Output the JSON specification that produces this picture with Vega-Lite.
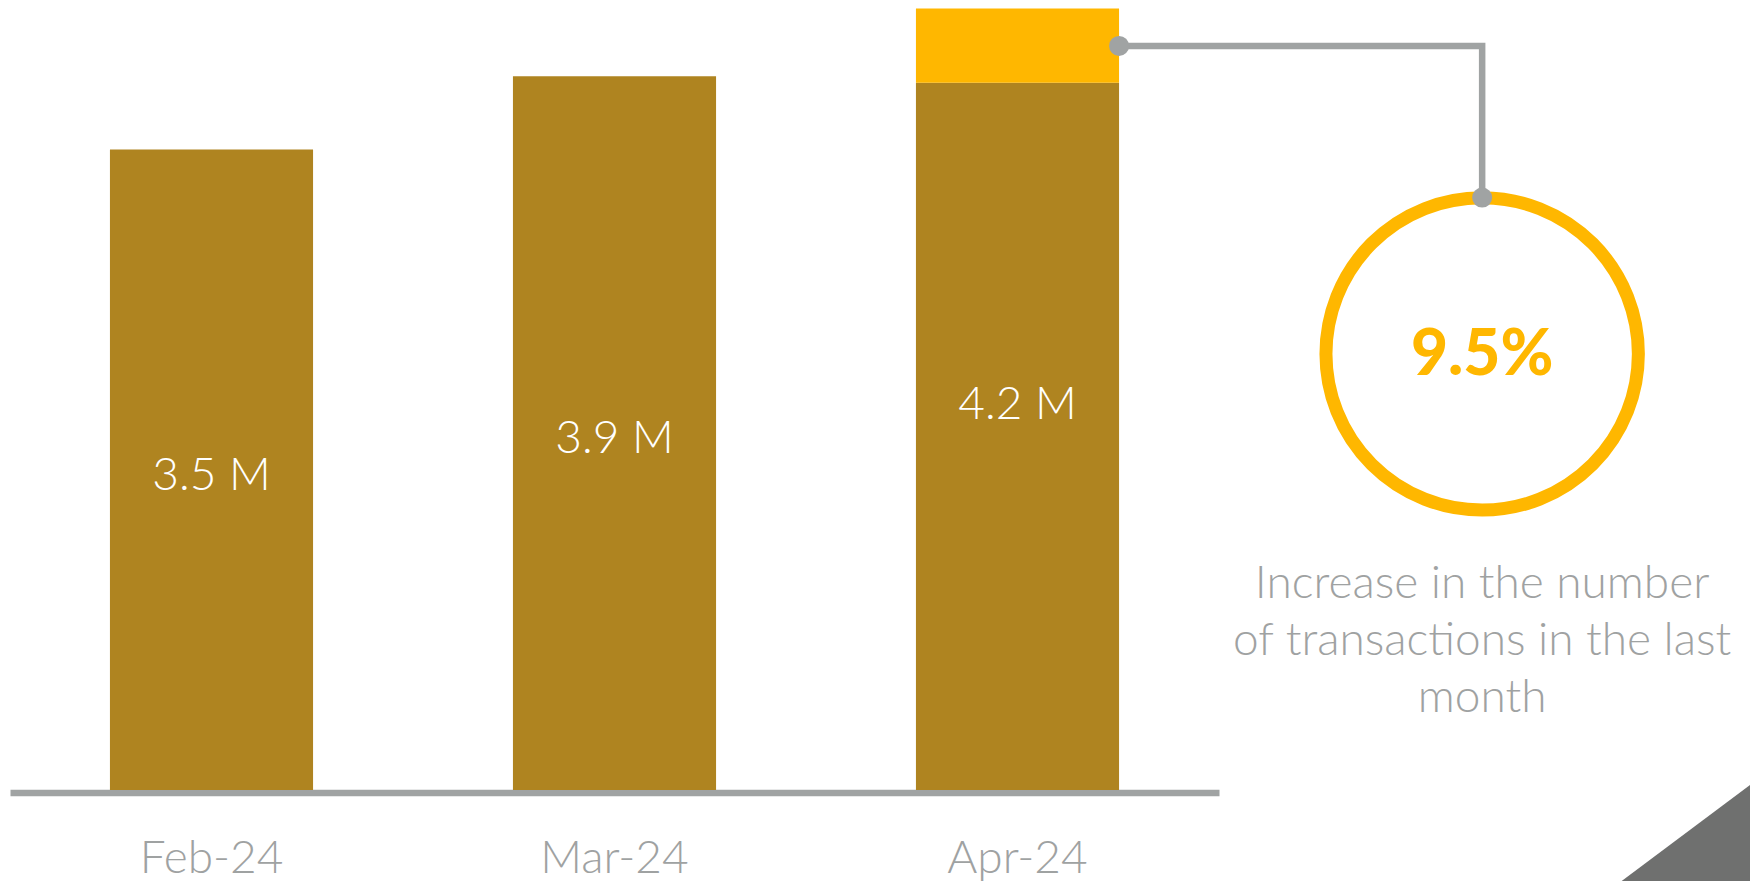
{
  "$schema": "https://vega.github.io/schema/vega-lite/v6.json",
  "autosize": "none",
  "width": 1209,
  "height": 790,
  "padding": {"left": 10, "top": 0, "right": 531, "bottom": 91},
  "background": "white",
  "config": {
    "view": {"stroke": null},
    "font": "Lato",
    "text": {"font": "Lato"}
  },
  "datasets": {
    "bars": [
      {"month": "Feb-24", "part": "base", "value": 3.5},
      {"month": "Mar-24", "part": "base", "value": 3.9},
      {"month": "Apr-24", "part": "base", "value": 3.865},
      {"month": "Apr-24", "part": "increase", "value": 0.405}
    ],
    "labels": [
      {"month": "Feb-24", "total": 3.5, "label": "3.5 M"},
      {"month": "Mar-24", "total": 3.9, "label": "3.9 M"},
      {"month": "Apr-24", "total": 4.27, "label": "4.2 M"}
    ],
    "connector": [
      {"s": 3.252, "v": 4.066, "step": 1},
      {"s": 4.153, "v": 4.066, "step": 2},
      {"s": 4.153, "v": 3.237, "step": 3}
    ],
    "dots": [
      {"s": 3.252, "v": 4.066},
      {"s": 4.153, "v": 3.237}
    ],
    "ring": [{"s": 4.153, "v": 2.383}],
    "pct": [{"s": 4.153, "v": 2.268, "text": "9.5%"}],
    "desc": [{"s": 4.153, "v": 1.049, "text": ["Increase in the number", "of transactions in the last", "month"]}],
    "corner": [
      {"s": 4.466, "v": -0.552},
      {"s": 4.842, "v": 0.068}
    ]
  },
  "resolve": {"scale": {"x": "independent"}, "axis": {"x": "independent"}},
  "layer": [
    {
      "encoding": {
        "x": {
          "field": "month", "type": "nominal", "sort": ["Feb-24", "Mar-24", "Apr-24"],
          "scale": {"paddingInner": 0.496, "paddingOuter": 0.248},
          "axis": {
            "title": null, "ticks": false, "tickSize": 0, "grid": false,
            "domain": true, "domainColor": "#A0A3A3", "domainWidth": 6.5, "offset": 2.5,
            "labelFont": "Lato", "labelFontWeight": 300, "labelFontSize": 46,
            "labelColor": "#9FA2A2", "labelBaseline": "alphabetic", "labelPadding": 79.5,
            "labelAngle": 0
          }
        }
      },
      "layer": [
        {
          "data": {"name": "bars"},
          "mark": {"type": "bar"},
          "encoding": {
            "y": {
              "field": "value", "type": "quantitative", "stack": "zero",
              "scale": {"domain": [0, 4.3169], "nice": false, "zero": true},
              "axis": null
            },
            "color": {
              "field": "part", "type": "nominal",
              "scale": {"domain": ["base", "increase"], "range": ["#AF8420", "#FFB700"]},
              "legend": null
            },
            "order": {"field": "part", "sort": "ascending"}
          }
        },
        {
          "data": {"name": "labels"},
          "transform": [{"calculate": "datum.total / 2", "as": "mid"}],
          "mark": {"type": "text", "color": "white", "font": "Lato", "fontWeight": 300, "fontSize": 46, "align": "center", "baseline": "alphabetic", "dy": 20},
          "encoding": {
            "y": {"field": "mid", "type": "quantitative", "scale": {"domain": [0, 4.3169], "nice": false, "zero": true}, "axis": null},
            "text": {"field": "label"}
          }
        }
      ]
    },
    {
      "encoding": {
        "x": {"field": "s", "type": "quantitative", "scale": {"domain": [0.5, 3.5], "zero": false, "nice": false}, "axis": null},
        "y": {"field": "v", "type": "quantitative", "scale": {"domain": [0, 4.3169], "nice": false, "zero": true}, "axis": null}
      },
      "layer": [
        {
          "data": {"name": "corner"},
          "mark": {"type": "area", "color": "#6F706F", "clip": false},
          "encoding": {
            "y2": {"datum": -0.552}
          }
        },
        {
          "data": {"name": "connector"},
          "mark": {"type": "line", "color": "#A0A3A3", "strokeWidth": 6.5, "strokeJoin": "miter", "strokeCap": "butt"},
          "encoding": {
            "order": {"field": "step"}
          }
        },
        {
          "data": {"name": "ring"},
          "mark": {"type": "point", "shape": "circle", "filled": false, "stroke": "#FFB700", "strokeWidth": 13, "size": 97600, "opacity": 1},
          "encoding": {}
        },
        {
          "data": {"name": "dots"},
          "mark": {"type": "point", "shape": "circle", "filled": true, "color": "#A0A3A3", "size": 400, "opacity": 1},
          "encoding": {}
        },
        {
          "data": {"name": "pct"},
          "mark": {"type": "text", "color": "#FFB700", "font": "Lato", "fontWeight": 900, "fontSize": 64, "align": "center", "baseline": "alphabetic"},
          "encoding": {
            "text": {"field": "text"}
          }
        },
        {
          "data": {"name": "desc"},
          "mark": {"type": "text", "color": "#9FA2A2", "font": "Lato", "fontWeight": 300, "fontSize": 46, "align": "center", "baseline": "alphabetic", "lineHeight": 57},
          "encoding": {
            "text": {"field": "text"}
          }
        }
      ]
    }
  ]
}
